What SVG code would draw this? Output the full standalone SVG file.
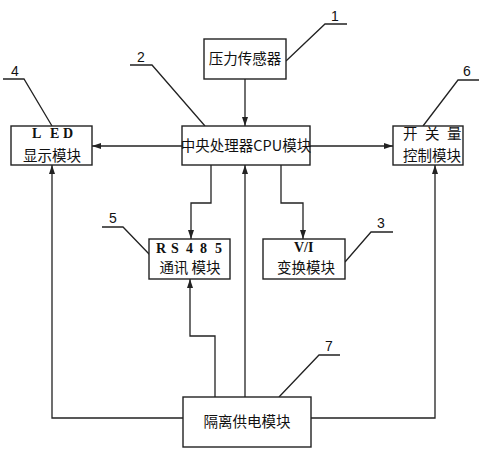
<svg xmlns="http://www.w3.org/2000/svg" width="481" height="450" viewBox="0 0 481 450">
<style>
.box{fill:#fff;stroke:#222;stroke-width:1.4}
.ln{fill:none;stroke:#222;stroke-width:1.3}
.t{font-family:"Noto Sans CJK SC","Liberation Serif",serif;font-size:14.5px;fill:#111;text-anchor:middle}
.l{font-family:"Noto Sans CJK SC","Liberation Serif",serif;font-size:14.5px;fill:#111}
.s{font-family:"Liberation Serif",serif;font-size:14px;fill:#111;font-weight:bold}
.n{font-family:"Liberation Sans",sans-serif;font-size:14px;fill:#111;text-anchor:middle}
</style>
<defs>
<marker id="ar" markerWidth="9" markerHeight="6" refX="9" refY="3" orient="auto" markerUnits="userSpaceOnUse">
<path d="M0,0 L9,3 L0,6 Z" fill="#222"/>
</marker>
</defs>
<g id="connectors" class="ln">
<path d="M245,79 V126" marker-end="url(#ar)"/>
<path d="M182,146 H92" marker-end="url(#ar)"/>
<path d="M310,146 H393" marker-end="url(#ar)"/>
<path d="M211,165 V203 H191 V239" marker-end="url(#ar)"/>
<path d="M281,165 V203 H303 V239" marker-end="url(#ar)"/>
<path d="M245,397 V165" marker-end="url(#ar)"/>
<path d="M215,397 V336 H190 V279" marker-end="url(#ar)"/>
<path d="M183,418 H52 V165" marker-end="url(#ar)"/>
<path d="M311,418 H435 V165" marker-end="url(#ar)"/>
</g>
<g id="leaders" class="ln">
<path d="M286,61 L325,24 H347"/>
<path d="M205,126 L152,65 H130"/>
<path d="M52,126 L24,79 H3"/>
<path d="M423,126 L458,80 H479"/>
<path d="M150,255 L123,227 H102"/>
<path d="M345,262 L371,232 H393"/>
<path d="M279,397 L319,355 H340"/>
</g>
<g id="labels">
<text class="n" x="335" y="21">1</text>
<text class="n" x="141" y="62">2</text>
<text class="n" x="15" y="76">4</text>
<text class="n" x="467" y="76">6</text>
<text class="n" x="113" y="223">5</text>
<text class="n" x="381" y="228">3</text>
<text class="n" x="329" y="351">7</text>
</g>
<g id="sensor">
<rect class="box" x="204" y="39" width="82" height="40"/>
<text class="t" x="245" y="64">压力传感器</text>
</g>
<g id="cpu">
<rect class="box" x="182" y="126" width="128" height="39"/>
<text class="t" x="246" y="151">中央处理器CPU模块</text>
</g>
<g id="led">
<rect class="box" x="11" y="126" width="81" height="39"/>
<text class="s" x="32 50 63" y="138">LED</text>
<text class="t" x="52" y="161">显示模块</text>
</g>
<g id="switch">
<rect class="box" x="393" y="126" width="70" height="39"/>
<text class="l" x="403 425 447" y="139">开关量</text>
<text class="t" x="432" y="161">控制模块</text>
</g>
<g id="rs485">
<rect class="box" x="149" y="239" width="81" height="40"/>
<text class="s" x="156 171 186 200 215" y="253">RS485</text>
<text class="t" x="190" y="273">通讯 模块</text>
</g>
<g id="vi">
<rect class="box" x="263" y="239" width="82" height="40"/>
<text class="s" x="294" y="252">V/I</text>
<text class="t" x="306" y="273">变换模块</text>
</g>
<g id="power">
<rect class="box" x="183" y="397" width="128" height="50"/>
<text class="t" x="247" y="427">隔离供电模块</text>
</g>
</svg>
